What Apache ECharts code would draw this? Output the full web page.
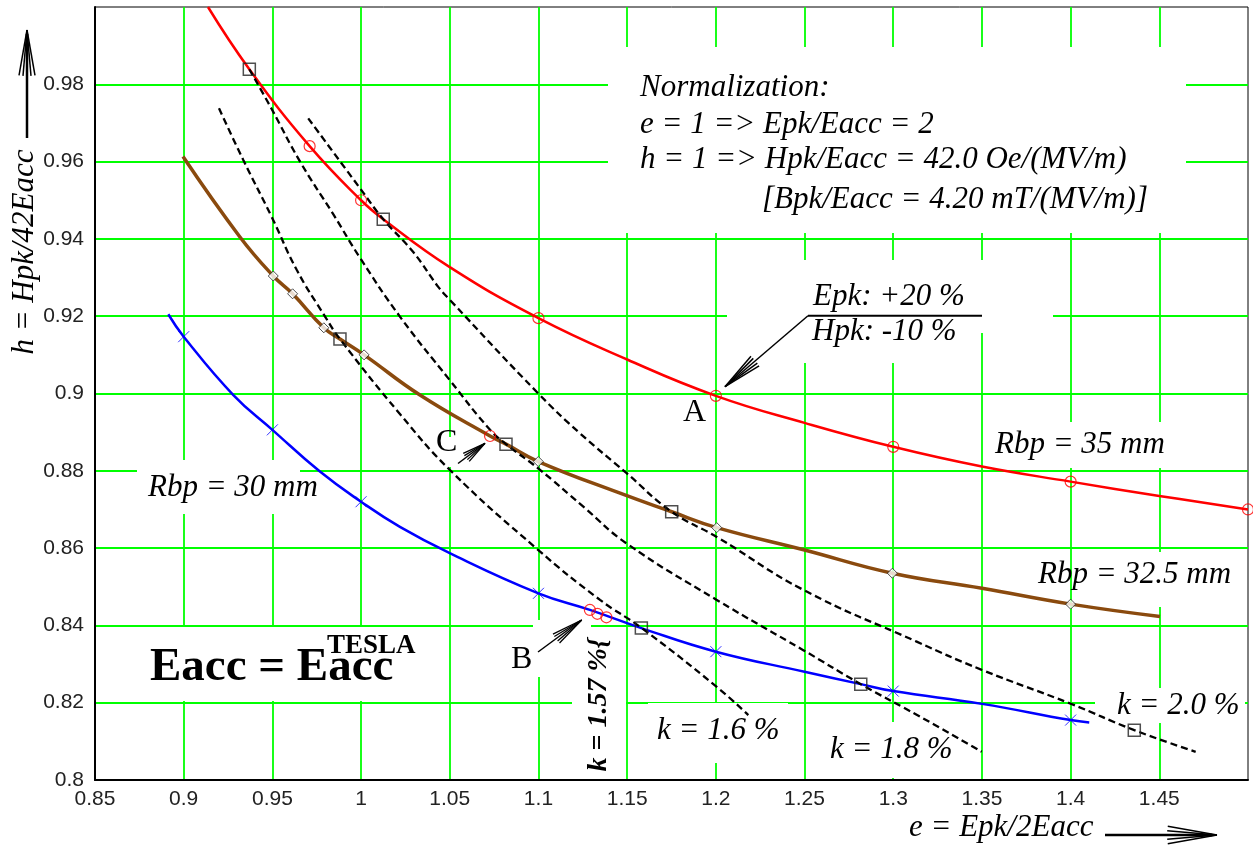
<!DOCTYPE html>
<html><head><meta charset="utf-8">
<script src="https://cdn.jsdelivr.net/npm/echarts@6/dist/echarts.min.js"></script>
<style>html,body{margin:0;padding:0;background:#fff}#c{width:1253px;height:849px}</style>
</head><body><div id="c"></div>
<script>
// ---------- data ----------
// Rbp = 35 mm (red)
const redE = [0.9137, 0.937, 0.971, 1.0, 1.0125, 1.05, 1.1, 1.15, 1.2, 1.25, 1.3, 1.35, 1.4, 1.45, 1.5];
const redH = [1.0, 0.9839, 0.964, 0.950, 0.9451, 0.9327, 0.9195, 0.9088, 0.8994, 0.8924, 0.8862, 0.8811, 0.8772, 0.8735, 0.870];
const redMarkE = [0.971, 1.0, 1.1, 1.2, 1.3, 1.4, 1.5];
const redMarkH = [0.964, 0.950, 0.9195, 0.8994, 0.8862, 0.8772, 0.870];
// Rbp = 32.5 mm (brown)
const brownE = [0.8996, 0.9317, 0.9505, 0.9614, 0.979, 0.9881, 1.0017, 1.0332, 1.0727, 1.0817, 1.0999, 1.146, 1.1751, 1.2005, 1.25, 1.2995, 1.35, 1.4, 1.4504];
const brownH = [0.9613, 0.9405, 0.9304, 0.9258, 0.9170, 0.9141, 0.9100, 0.8996, 0.8890, 0.8869, 0.8824, 0.8742, 0.8694, 0.8653, 0.8595, 0.8535, 0.8496, 0.8455, 0.8423];
const brownMarkE = [0.9505, 0.9614, 0.979, 1.0017, 1.0999, 1.2005, 1.2995, 1.4];
const brownMarkH = [0.9304, 0.9258, 0.9170, 0.9100, 0.8824, 0.8653, 0.8535, 0.8455];
// Rbp = 30 mm (blue)
const blueE = [0.8913, 0.9, 0.928, 0.95, 0.9768, 1.0, 1.0219, 1.05, 1.1, 1.129, 1.158, 1.2, 1.25, 1.2817, 1.3, 1.35, 1.4, 1.4105];
const blueH = [0.9205, 0.9147, 0.8996, 0.8906, 0.8798, 0.8720, 0.8655, 0.8587, 0.8483, 0.8440, 0.8393, 0.8332, 0.8280, 0.8248, 0.8230, 0.8197, 0.8155, 0.8149];
const blueMarkE = [0.9, 0.95, 1.0, 1.1, 1.2, 1.3, 1.4];
const blueMarkH = [0.9147, 0.8906, 0.8720, 0.8483, 0.8332, 0.8230, 0.8155];
// constant-k lines (dashed)
const k16E = [0.9199, 0.9336, 0.9496, 0.9637, 0.9797, 0.9881, 1.0219, 1.0501, 1.0999, 1.1347, 1.1582, 1.2005, 1.2183];
const k16H = [0.9738, 0.9604, 0.9457, 0.9320, 0.9199, 0.9141, 0.8947, 0.8802, 0.8595, 0.8466, 0.8393, 0.8241, 0.8168];
const k18E = [0.9370, 0.9496, 0.9656, 0.9843, 0.9994, 1.0219, 1.0501, 1.0727, 1.0817, 1.0999, 1.1253, 1.1497, 1.2005, 1.2493, 1.2817, 1.3151, 1.3499];
const k18H = [0.9839, 0.9736, 0.9600, 0.9464, 0.9351, 0.9199, 0.9034, 0.8906, 0.8869, 0.8806, 0.8707, 0.8612, 0.8466, 0.8336, 0.8248, 0.8164, 0.8073];
const k20E = [0.9702, 0.9994, 1.0125, 1.0294, 1.0435, 1.0501, 1.0999, 1.1234, 1.1497, 1.1751, 1.2005, 1.2493, 1.3132, 1.3499, 1.3997, 1.4359, 1.4705];
const k20H = [0.9712, 0.9531, 0.9451, 0.9366, 0.9276, 0.9242, 0.9000, 0.8897, 0.8794, 0.8694, 0.8629, 0.8492, 0.8358, 0.8285, 0.8198, 0.8129, 0.8073];
// intersection squares
const sqE = [0.937, 1.0125, 0.9881, 1.0817, 1.1751, 1.158, 1.2817, 1.4359];
const sqH = [0.9839, 0.9451, 0.9141, 0.8869, 0.8694, 0.8393, 0.8248, 0.8129];
// special points B (three) and C
const specE = [1.129, 1.1332, 1.1383, 1.0727];
const specH = [0.8440, 0.8430, 0.8421, 0.8890];
// axes
const xMin = 0.85, xMax = 1.5, xStep = 0.05;
const yMin = 0.8, yMax = 1.0, yStep = 0.02;

// ---------- build ----------
const zip = (a, b) => a.map((v, i) => [v, b[i]]);
const chart = echarts.init(document.getElementById('c'), null, {renderer: 'canvas'});

const SERIF = '"Liberation Serif", "Times New Roman", serif';
function txt(s, x, y, font, extra) {
  return Object.assign({type: 'text', x: x, y: y, z: 20, silent: true,
    style: {text: s, font: font, fill: '#000', align: 'left', verticalAlign: 'middle'}}, extra || {});
}
function mask(x, y, w, h) {
  return {type: 'rect', z: 1, silent: true, shape: {x: x, y: y, width: w, height: h}, style: {fill: '#fff'}};
}
function seg(pts, w) {
  return {type: 'polyline', z: 20, silent: true, shape: {points: pts}, style: {stroke: '#000', lineWidth: w, fill: null}};
}
function head(tx, ty, fx, fy, len, angles, w) {
  const dx = fx - tx, dy = fy - ty, L = Math.hypot(dx, dy), ux = dx / L, uy = dy / L;
  return angles.map(a => {
    const c = Math.cos(a), s = Math.sin(a);
    const vx = ux * c - uy * s, vy = ux * s + uy * c;
    return seg([[tx, ty], [tx + vx * len, ty + vy * len]], w);
  });
}
const IT = 'italic 31px ' + SERIF;
const d = Math.PI / 180;

const graphic = [
  mask(608, 47, 578, 186),
  mask(727, 260, 326, 73), mask(727, 260, 250, 103),
  mask(990, 422, 180, 46),
  mask(1100, 552, 145, 55),
  mask(1095, 688, 150, 35),
  mask(815, 722, 155, 56),
  mask(648, 703, 140, 60),
  mask(572, 630, 54, 148),
  mask(533, 620, 58, 57),
  mask(430, 437, 50, 30),
  mask(137, 460, 163, 54),
  mask(140, 627, 285, 74),
  txt('Normalization:', 640, 88, IT),
  txt('e = 1 => Epk/Eacc = 2', 640, 125, IT),
  txt('h = 1 => Hpk/Eacc = 42.0 Oe/(MV/m)', 640, 160, IT),
  txt('[Bpk/Eacc = 4.20 mT/(MV/m)]', 762, 200, IT),
  txt('Epk: +20 %', 813, 297, IT),
  txt('Hpk: -10 %', 812, 332, IT),
  txt('A', 683, 413, '32px ' + SERIF),
  txt('C', 436, 443, '32px ' + SERIF),
  txt('B', 511, 660, '32px ' + SERIF),
  txt('Rbp = 30 mm', 148, 488, IT),
  txt('Rbp = 35 mm', 995, 445, IT),
  txt('Rbp = 32.5 mm', 1038, 575, IT),
  txt('k = 2.0 %', 1117, 706, IT),
  txt('k = 1.8 %', 830, 750, IT),
  txt('k = 1.6 %', 657, 731, IT),
  txt('k = 1.57 %{', 599, 705, 'italic bold 28px ' + SERIF, {rotation: Math.PI / 2, style: {text: 'k = 1.57 %{', font: 'italic bold 28px ' + SERIF, fill: '#000', align: 'center', verticalAlign: 'middle'}}),
  txt('Eacc = Eacc', 150, 668, 'bold 47px ' + SERIF),
  txt('TESLA', 327, 646, 'bold 27px ' + SERIF),
  txt('h = Hpk/42Eacc', 25, 252, IT, {rotation: Math.PI / 2, style: {text: 'h = Hpk/42Eacc', font: IT, fill: '#000', align: 'center', verticalAlign: 'middle'}}),
  txt('e = Epk/2Eacc', 909, 828, IT),
  seg([[27, 138], [27, 34]], 2.5),
  ...head(27, 30, 27, 138, 46, [-10 * d, -5 * d, 0, 5 * d, 10 * d], 1.5),
  seg([[1105, 835], [1212, 835]], 2.5),
  ...head(1217, 835, 1105, 835, 50, [-10 * d, -5 * d, 0, 5 * d, 10 * d], 1.5),
  seg([[808, 315.7], [982, 315.7]], 2),
  seg([[808, 315.7], [727, 385]], 1.5),
  ...head(725, 386.7, 808, 315.7, 40, [-9 * d, -4.5 * d, 4.5 * d, 9 * d], 1.5),
  seg([[458, 463.5], [484, 444]], 1.5),
  ...head(485, 443.3, 458.3, 463.3, 24, [-12 * d, -6 * d, 6 * d, 12 * d], 1.3),
  seg([[538, 652], [580, 621]], 1.5),
  ...head(581.7, 620, 538.3, 651.7, 32, [-10 * d, -5 * d, 5 * d, 10 * d], 1.3)
];

const crossPath = 'path://M0,0L10,10M10,0L0,10';
function curve(name, e, h, color, width, z, dash) {
  return {type: 'line', name: name, data: zip(e, h), smooth: 0.45, showSymbol: false, silent: true, z: z,
    lineStyle: {color: color, width: width, type: dash || 'solid'}};
}
const option = {
  animation: false,
  backgroundColor: '#fff',
  grid: {left: 95, right: 5, top: 7, bottom: 69, containLabel: false, show: true, borderColor: '#000', borderWidth: 1, backgroundColor: 'transparent'},
  xAxis: {
    type: 'value', min: xMin, max: xMax, interval: xStep,
    axisLine: {show: true, onZero: false, lineStyle: {color: '#000', width: 2}},
    axisTick: {show: false},
    axisLabel: {showMaxLabel: false, margin: 9, fontSize: 21, color: '#222', fontFamily: '"Liberation Sans", Arial, sans-serif'},
    splitLine: {show: true, showMinLine: false, showMaxLine: false, lineStyle: {color: '#00ff00', width: 1.8}}
  },
  yAxis: {
    type: 'value', min: yMin, max: yMax, interval: yStep,
    axisLine: {show: true, onZero: false, lineStyle: {color: '#000', width: 2}},
    axisTick: {show: false},
    axisLabel: {showMaxLabel: false, margin: 11, fontSize: 21, color: '#222', fontFamily: '"Liberation Sans", Arial, sans-serif'},
    splitLine: {show: true, showMinLine: false, showMaxLine: false, lineStyle: {color: '#00ff00', width: 1.8}}
  },
  graphic: graphic,
  series: [
    curve('Rbp35', redE, redH, '#ff0000', 2.5, 3),
    curve('Rbp32.5', brownE, brownH, '#8a4a0e', 3.5, 3),
    curve('Rbp30', blueE, blueH, '#0000ff', 2.5, 3),
    curve('k1.6', k16E, k16H, '#000', 2.3, 4, [7, 4]),
    curve('k1.8', k18E, k18H, '#000', 2.3, 4, [7, 4]),
    curve('k2.0', k20E, k20H, '#000', 2.3, 4, [7, 4]),
    {type: 'scatter', data: zip(redMarkE, redMarkH), symbol: 'circle', symbolSize: 11, silent: true, z: 5, itemStyle: {color: 'rgba(255,255,255,0)', borderColor: '#ff0000', borderWidth: 1.2}},
    {type: 'scatter', data: zip(specE, specH), symbol: 'circle', symbolSize: 11, silent: true, z: 5, itemStyle: {color: 'rgba(255,255,255,0)', borderColor: '#ff0000', borderWidth: 1.2}},
    {type: 'scatter', data: zip(brownMarkE, brownMarkH), symbol: 'diamond', symbolSize: 10, silent: true, z: 5, itemStyle: {color: '#fff', borderColor: '#222', borderWidth: 1}},
    {type: 'scatter', data: zip(blueMarkE, blueMarkH), symbol: crossPath, symbolSize: 11, silent: true, z: 5, itemStyle: {color: '#0000ff', borderColor: '#0000ff', borderWidth: 1}},
    {type: 'scatter', data: zip(sqE, sqH), symbol: 'rect', symbolSize: 12, silent: true, z: 6, itemStyle: {color: 'rgba(255,255,255,0)', borderColor: '#222', borderWidth: 1.5}}
  ]
};
chart.setOption(option);
</script>
</body></html>
